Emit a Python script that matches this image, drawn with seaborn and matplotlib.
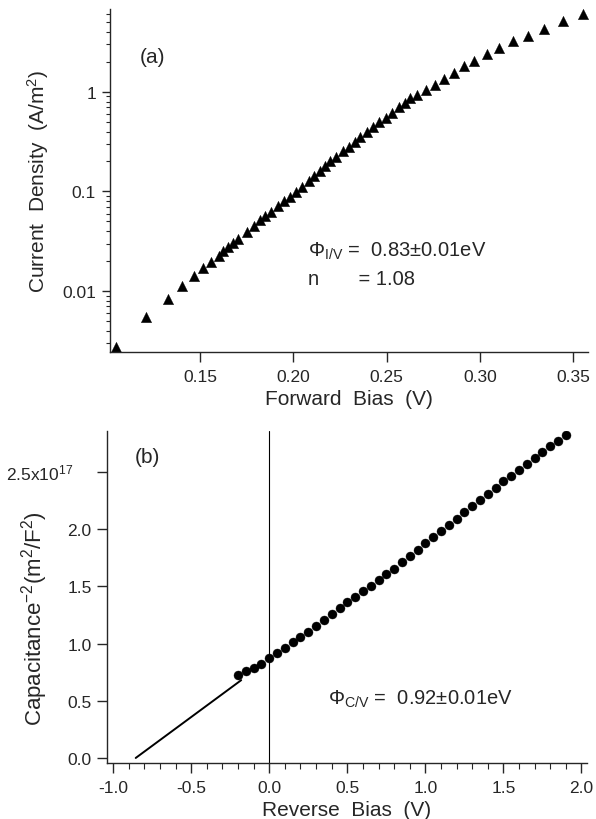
import matplotlib
matplotlib.use("Agg")
import matplotlib.pyplot as plt
import matplotlib.ticker as mticker
import numpy as np
import pandas as pd
import seaborn as sns

# ---- data: panel (a) forward I-V ----
fwd_bias = [0.1048, 0.1210, 0.1326, 0.1402, 0.1466, 0.1513, 0.1556, 0.1599, 0.1625,
            0.1649, 0.1676, 0.1703, 0.1751, 0.1787, 0.1819, 0.1849, 0.1880, 0.1916,
            0.1948, 0.1980, 0.2015, 0.2047, 0.2082, 0.2109, 0.2141, 0.2172, 0.2199,
            0.2231, 0.2267, 0.2297, 0.2328, 0.2360, 0.2396, 0.2428, 0.2461, 0.2495,
            0.2531, 0.2568, 0.2597, 0.2625, 0.2665, 0.2713, 0.2758, 0.2808, 0.2862,
            0.2916, 0.2969, 0.3038, 0.3104, 0.3179, 0.3256, 0.3346, 0.3448, 0.3555]
current_density = [0.00272, 0.00552, 0.0083, 0.0111, 0.0140, 0.0169, 0.0194, 0.0226, 0.0251,
                   0.0275, 0.0301, 0.0336, 0.0395, 0.0453, 0.0513, 0.0562, 0.0627, 0.0710,
                   0.0797, 0.0887, 0.0995, 0.1117, 0.1285, 0.144, 0.162, 0.182, 0.201,
                   0.224, 0.253, 0.282, 0.317, 0.356, 0.399, 0.441, 0.496, 0.552,
                   0.620, 0.701, 0.769, 0.864, 0.933, 1.05, 1.18, 1.35, 1.55,
                   1.80, 2.06, 2.41, 2.77, 3.23, 3.68, 4.30, 5.13, 6.08]

# ---- data: panel (b) C-V (C^-2 in units of 1e17 m^2/F^2) ----
rev_bias = [-0.20, -0.15, -0.10, -0.05, 0.00, 0.05, 0.10, 0.15, 0.20, 0.25, 0.30,
            0.35, 0.40, 0.45, 0.50, 0.55, 0.60, 0.65, 0.70, 0.75, 0.80, 0.85,
            0.90, 0.95, 1.00, 1.05, 1.10, 1.15, 1.20, 1.25, 1.30, 1.35, 1.40,
            1.45, 1.50, 1.55, 1.60, 1.65, 1.70, 1.75, 1.80, 1.85, 1.90]
inv_cap_sq = [0.726, 0.760, 0.790, 0.825, 0.871, 0.915, 0.962, 1.011, 1.060, 1.104, 1.157,
              1.206, 1.259, 1.308, 1.361, 1.410, 1.457, 1.506, 1.556, 1.608, 1.655, 1.715,
              1.768, 1.821, 1.879, 1.929, 1.982, 2.037, 2.089, 2.148, 2.200, 2.255, 2.308,
              2.357, 2.419, 2.462, 2.520, 2.570, 2.622, 2.672, 2.730, 2.774, 2.826]
fit_x = [-0.856, -0.180]
fit_y = [0.0, 0.680]

x_ticks_a = [0.15, 0.20, 0.25, 0.30, 0.35]
y_ticks_a = [0.01, 0.1, 1]
y_labels_a = ["0.01", "0.1", "1"]
x_ticks_b = [-1.0, -0.5, 0.0, 0.5, 1.0, 1.5, 2.0]
y_ticks_b = [0.0, 0.5, 1.0, 1.5, 2.0, 2.5]

sns.set_style("ticks")
plt.rcParams['font.family'] = ['Liberation Sans', 'DejaVu Sans']
plt.rcParams['mathtext.fontset'] = 'custom'
plt.rcParams['mathtext.rm'] = 'Liberation Sans'
plt.rcParams['mathtext.it'] = 'Liberation Sans:italic'
plt.rcParams['mathtext.bf'] = 'Liberation Sans:bold'
plt.rcParams['axes.linewidth'] = 1.0

fig = plt.figure(figsize=(5.96, 8.2), dpi=100)
ax1 = fig.add_axes([110/596, 1-353/820, (588-110)/596, (353-10)/820])
ax2 = fig.add_axes([107/596, 1-764/820, (587-107)/596, (764-432)/820])

df_a = pd.DataFrame({"bias": fwd_bias, "J": current_density})
df_b = pd.DataFrame({"bias": rev_bias, "C2": inv_cap_sq})
df_fit = pd.DataFrame({"bias": fit_x, "C2": fit_y})

# panel (a)
sns.scatterplot(data=df_a, x="bias", y="J", ax=ax1, marker="^", s=55,
                color="black", edgecolor="black", linewidth=0.3)
ax1.set_yscale("log")
ax1.set_xlim(0.1017, 0.358)
ax1.set_ylim(0.00244, 6.8)
ax1.set_xticks(x_ticks_a)
ax1.set_xticklabels([f"{v:.2f}" for v in x_ticks_a])
ax1.yaxis.set_major_locator(mticker.FixedLocator(y_ticks_a))
ax1.yaxis.set_major_formatter(mticker.FixedFormatter(y_labels_a))
ax1.yaxis.set_minor_locator(mticker.LogLocator(base=10, subs=np.arange(2, 10), numticks=20))
ax1.yaxis.set_minor_formatter(mticker.NullFormatter())
ax1.set_xlabel("Forward  Bias  (V)", fontsize=15, labelpad=4)
ax1.set_ylabel("Current  Density  (A/m$^2$)", fontsize=15, labelpad=8)
ax1.tick_params(axis="x", which="major", length=7, width=1, direction="out", labelsize=12.5, pad=5)
ax1.tick_params(axis="y", which="major", length=6, width=1, direction="out", labelsize=12.5, pad=4)
ax1.tick_params(axis="y", which="minor", length=3, width=0.8, direction="out")
ax1.annotate("(a)", xy=(140/596, 1-63/820), xycoords="figure fraction", fontsize=15,
             ha="left", va="baseline")
ax1.annotate(r"$\Phi_{\mathrm{I/V}}$ =  0.83±0.01eV", xy=(308/596, 1-257/820),
             xycoords="figure fraction", fontsize=14.5, ha="left", va="baseline")
ax1.annotate("n       = 1.08", xy=(308/596, 1-285/820),
             xycoords="figure fraction", fontsize=14.5, ha="left", va="baseline")
sns.despine(ax=ax1)

# panel (b)
ax2.axvline(0.0, color="black", linewidth=0.8)
sns.lineplot(data=df_fit, x="bias", y="C2", ax=ax2, color="black", linewidth=1.4)
sns.scatterplot(data=df_b, x="bias", y="C2", ax=ax2, marker="o", s=42,
                color="black", edgecolor="black", linewidth=0.3, zorder=3)
ax2.set_xlim(-1.04, 2.036)
ax2.set_ylim(-0.044, 2.858)
ax2.set_xticks(x_ticks_b)
ax2.set_xticklabels([f"{v:.1f}" for v in x_ticks_b])
ax2.xaxis.set_minor_locator(mticker.MultipleLocator(0.1))
ax2.set_yticks(y_ticks_b)
ax2.set_yticklabels([f"{v:.1f}" for v in y_ticks_b[:-1]] + [""])
ax2.annotate("2.5x10$^{17}$", xy=(0, 2.5), xycoords=("axes fraction", "data"),
             xytext=(-34 * 0.72, 0), textcoords="offset points",
             fontsize=12.5, ha="right", va="center")
ax2.set_xlabel("Reverse  Bias  (V)", fontsize=15, labelpad=4)
ax2.set_ylabel("Capacitance$^{-2}$(m$^2$/F$^2$)", fontsize=16, labelpad=8)
ax2.yaxis.set_label_coords(-0.118, 0.437)
ax2.tick_params(axis="x", which="major", length=7, width=1, direction="out", labelsize=12.5, pad=5)
ax2.tick_params(axis="x", which="minor", length=4, width=0.8, direction="out")
ax2.tick_params(axis="y", which="major", length=7, width=1, direction="out", labelsize=12.5, pad=4)
ax2.annotate("(b)", xy=(135/596, 1-463/820), xycoords="figure fraction", fontsize=15,
             ha="left", va="baseline")
ax2.annotate(r"$\Phi_{\mathrm{C/V}}$ =  0.92±0.01eV", xy=(328/596, 1-705/820),
             xycoords="figure fraction", fontsize=14.5, ha="left", va="baseline")
sns.despine(ax=ax2)

fig.savefig("out.png", dpi=100)
